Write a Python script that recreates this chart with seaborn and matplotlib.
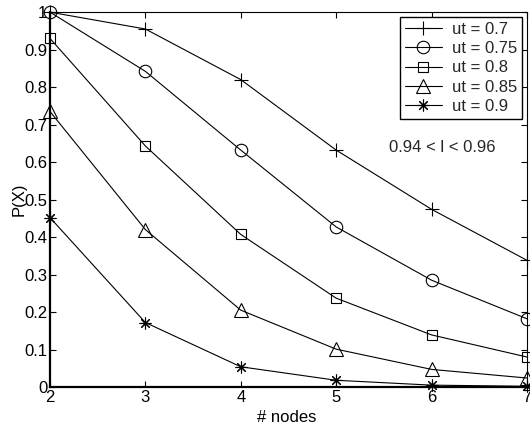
import matplotlib
matplotlib.use("Agg")
import matplotlib.pyplot as plt
import seaborn as sns
import pandas as pd

nodes = [2, 3, 4, 5, 6, 7]
ut_07 = [1.0, 0.955, 0.82, 0.632, 0.474, 0.338]
ut_075 = [1.0, 0.842, 0.632, 0.427, 0.285, 0.182]
ut_08 = [0.93, 0.643, 0.407, 0.237, 0.139, 0.08]
ut_085 = [0.735, 0.42, 0.205, 0.101, 0.047, 0.024]
ut_09 = [0.452, 0.172, 0.054, 0.018, 0.005, 0.002]
labels = ["ut = 0.7", "ut = 0.75", "ut = 0.8", "ut = 0.85", "ut = 0.9"]
series = [ut_07, ut_075, ut_08, ut_085, ut_09]

sns.set_theme(style="white")
plt.rcParams['font.family'] = ['Liberation Sans', 'DejaVu Sans']

fig = plt.figure(figsize=(5.3, 4.26), dpi=100)
ax = fig.add_axes([0.0943, 0.0915, 0.9, 0.88])

markers = ['+', 'o', 's', '^', (8, 2, 0)]
msizes = [10, 9, 7.5, 10, 8.5]
for lab, vals, m, ms in zip(labels, series, markers, msizes):
    df = pd.DataFrame({"nodes": nodes, "p": vals})
    sns.lineplot(data=df, x="nodes", y="p", ax=ax, color="black", lw=0.8,
                 marker=m, markersize=ms, markerfacecolor='none',
                 markeredgecolor='black', markeredgewidth=0.8, label=lab,
                 clip_on=False)

ax.set_xlim(2, 7)
ax.set_ylim(0, 1)
ax.set_xticks(nodes)
ax.set_xticklabels([str(n) for n in nodes])
yt = [i / 10 for i in range(11)]
ax.set_yticks(yt)
ax.set_yticklabels(["0"] + ["%.1f" % v for v in yt[1:-1]] + ["1"])
ax.tick_params(direction='in', length=4, width=0.8, top=True, right=True,
               labelsize=12, colors='black', pad=2,
               bottom=True, left=True)
for s in ['top', 'right']:
    ax.spines[s].set_linewidth(0.8)
for s in ['left', 'bottom']:
    ax.spines[s].set_linewidth(1.6)
for s in ax.spines.values():
    s.set_color('black')

ax.set_xlabel("# nodes", fontsize=12, color='black')
ax.set_ylabel("P(X)", fontsize=12, color='black')
ax.xaxis.set_label_coords(0.497, -0.06)
ax.yaxis.set_label_coords(-0.05, 0.5)

ax.text(5.55, 0.64, "0.94 < l < 0.96", fontsize=12, va='center', ha='left')

leg = ax.legend(loc='upper right', fontsize=12, frameon=True, fancybox=False,
                edgecolor='black', framealpha=1, borderpad=0.3,
                labelspacing=0.25, handlelength=2.2, handletextpad=0.6,
                borderaxespad=0.3)
leg.get_frame().set_linewidth(1.0)

fig.savefig("out.png", dpi=100)
